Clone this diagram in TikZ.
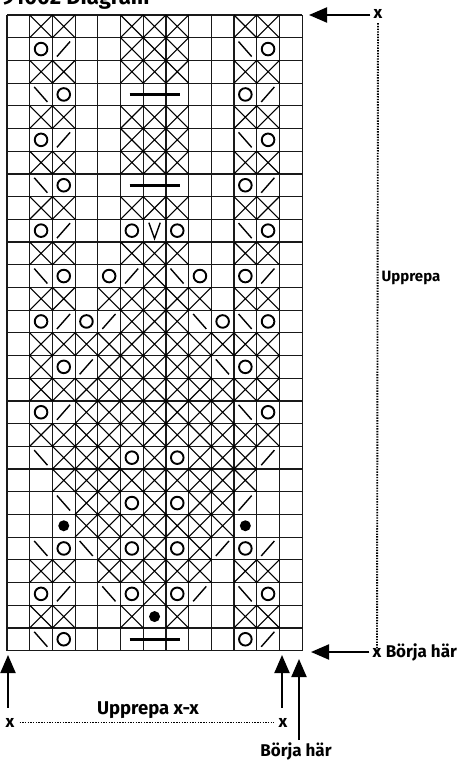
\documentclass[tikz,border=0pt]{standalone}
\usepackage{fontspec}
\setmainfont{Fira Sans}
\usetikzlibrary{arrows.meta, positioning}

\begin{document}
\begin{tikzpicture}[
        x=1pt, y=-1pt,
        gridline/.style={draw=black!90, line width=1.2pt},
        kreuz/.style={line width=1.1pt},
        umschlag/.style={line width=1.9pt},
        strich/.style={line width=1.4pt},
        balken/.style={line width=2.6pt},
        lbl/.style={font=\bfseries\fontsize{17}{20}\selectfont, inner sep=0pt},
        pfeil/.style={-{Triangle[length=18pt, width=15pt]}, line width=2pt},
        punkte/.style={line width=1.9pt, dash pattern=on 1.4pt off 1.3pt}
    ]
    \useasboundingbox (0,0) rectangle (463,760);

    % Titel
    \node[font=\bfseries\fontsize{22}{24}\selectfont, anchor=base west, inner sep=0pt] (titel) at (2,5) {91002 Diagram};

    % Diagramm
    \begin{scope}[xshift=7pt, yshift=-15pt, x=22.7pt, y=-22.7pt]
    \foreach \i in {0,...,13} \draw[gridline] (\i,0) -- (\i,28);
    \foreach \j in {0,...,28} \draw[gridline] (0,\j) -- (13,\j);

    % Kreuze
    \foreach \r/\cl in {1/{2,3,6,7,8,11,12}, 2/{6,7,8}, 3/{2,3,6,7,8,11,12},
            5/{2,3,6,7,8,11,12}, 6/{6,7,8}, 7/{2,3,6,7,8,11,12},
            9/{2,3,6,7,8,11,12}, 11/{2,3,6,7,8,11,12}, 12/{7},
            13/{2,3,5,6,7,8,9,11,12}, 14/{6,7,8}, 15/{2,...,12},
            16/{2,5,6,7,8,9,12}, 17/{2,...,12}, 18/{4,...,10}, 19/{2,...,12},
            20/{3,4,5,7,9,10,11}, 21/{3,...,11}, 22/{4,5,7,9,10}, 23/{4,...,10},
            24/{5,7,9}, 25/{2,3,5,6,7,8,9,11,12}, 26/{7}, 27/{2,3,6,8,11,12}}
        \foreach \c in \cl
            \draw[kreuz] (\c-1,\r-1) -- (\c,\r) (\c-1,\r) -- (\c,\r-1);

    % Umschlaege
    \foreach \r/\cl in {2/{2,12}, 4/{3,11}, 6/{2,12}, 8/{3,11}, 10/{2,6,8,12},
            12/{3,5,9,11}, 14/{2,4,10,12}, 16/{3,11}, 18/{2,12}, 20/{6,8},
            22/{6,8}, 24/{3,6,8,11}, 26/{2,6,8,12}, 28/{3,11}}
        \foreach \c in \cl
            \draw[umschlag] (\c-0.5,\r-0.5) circle[radius=6.3pt];

    % nach rechts
    \foreach \r/\cl in {2/{3}, 4/{12}, 6/{3}, 8/{12}, 10/{3}, 12/{6,12},
            14/{3,5}, 16/{4}, 18/{3}, 20/{12}, 22/{11}, 24/{10,12},
            26/{3,9}, 28/{12}}
        \foreach \c in \cl
            \draw[strich] (\c-0.8,\r-0.17) -- (\c-0.22,\r-0.83);

    % nach links
    \foreach \r/\cl in {2/{11}, 4/{2}, 6/{11}, 8/{2}, 10/{11}, 12/{2,8},
            14/{9,11}, 16/{10}, 18/{11}, 20/{2}, 22/{3}, 24/{2,4},
            26/{5,11}, 28/{2}}
        \foreach \c in \cl
            \draw[strich] (\c-0.8,\r-0.83) -- (\c-0.22,\r-0.17);

    % Punkte, V und Balken
    \foreach \c/\r in {3/23, 11/23, 7/27}
        \fill (\c-0.5,\r-0.5) circle[radius=5.5pt];
    \draw[strich] (6.25,9.15) -- (6.5,9.85) -- (6.75,9.15);
    \foreach \r in {4,8,28}
        \draw[balken] (5.4,\r-0.5) -- (7.6,\r-0.5);
    \end{scope}

    % Markierungen rechts
    \node[lbl, anchor=base] (xoben) at (378,19) {x};
    \coordinate (ziel1) at (309,15);
    \draw[pfeil, shorten <=3pt] (xoben.west |- ziel1) -- (ziel1);

    \node[lbl, anchor=base] (xunten) at (377,657) {x};
    \node[lbl, right=4pt of xunten.base east, anchor=base west] (start1) {Börja här};
    \coordinate (ziel2) at (311,652);
    \draw[pfeil, shorten <=3pt] (xunten.west |- ziel2) -- (ziel2);

    \draw[punkte] (xoben.south) ++(0,4) -- ([yshift=-3pt]xunten.north);
    \node[lbl, font=\bfseries\fontsize{15}{17}\selectfont] (upp1) at (411,278) {Upprepa};

    % Markierungen unten
    \node[lbl, anchor=base] (xlinks) at (10,727) {x};
    \node[lbl, anchor=base] (xrechts) at (283,727) {x};
    \coordinate (spitze1) at (8,655);
    \coordinate (spitze2) at (282,655);
    \draw[pfeil, shorten <=10pt] (spitze1 |- xlinks.north) -- (spitze1);
    \draw[pfeil, shorten <=10pt] (spitze2 |- xrechts.north) -- (spitze2);
    \draw[punkte] ([xshift=5pt]xlinks.east) -- ([xshift=-5pt]xrechts.west);
    \node[lbl, font=\bfseries\fontsize{18.5}{20}\selectfont, anchor=base] (upp2) at (148,714) {Upprepa x-x};

    \node[lbl, anchor=base] (start2) at (296,756) {Börja här};
    \coordinate (spitze3) at (299,659);
    \draw[pfeil, shorten <=2pt] (spitze3 |- start2.north) -- (spitze3);

\end{tikzpicture}
\end{document}
